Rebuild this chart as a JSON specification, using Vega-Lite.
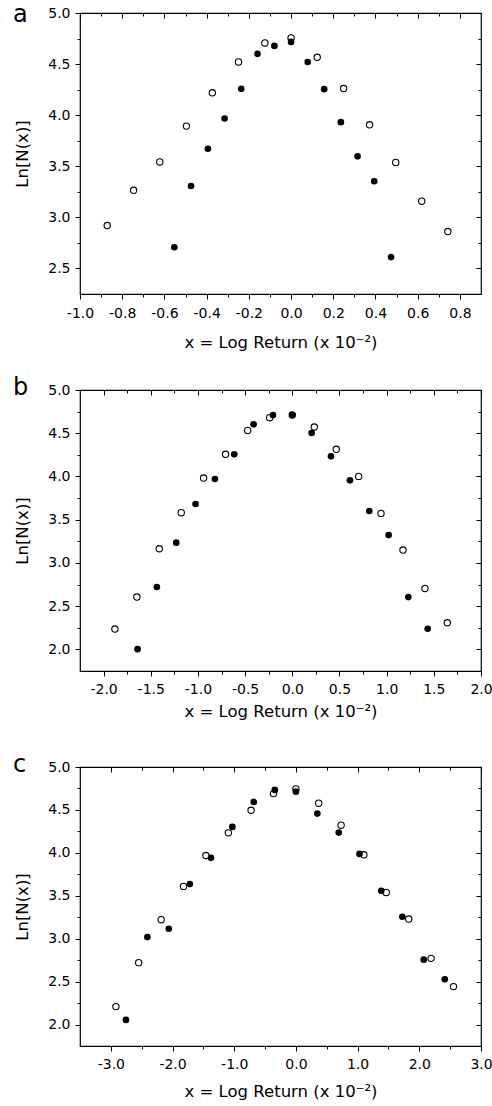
{
  "$schema": "https://vega.github.io/schema/vega-lite/v6.json",
  "padding": {"left": 12, "top": 2, "right": 10, "bottom": 5},
  "background": "white",
  "config": {
    "view": {"stroke": "black", "strokeWidth": 1.2},
    "axis": {"labelFont": "DejaVu Sans", "labelFontSize": 14, "labelColor": "black", "titleFont": "DejaVu Sans", "titleFontSize": 16.5, "titleFontWeight": "normal", "titleColor": "black", "tickColor": "black", "tickWidth": 1, "domain": false, "grid": false, "labelFlush": false, "labelOverlap": false, "labelBound": false},
    "title": {"font": "DejaVu Sans", "fontSize": 24, "fontWeight": "normal", "color": "black"}
  },
  "datasets": {
    "a": [
      {"x": -0.871, "y": 2.92, "s": "open"}, {"x": -0.746, "y": 3.265, "s": "open"}, {"x": -0.622, "y": 3.542, "s": "open"}, {"x": -0.496, "y": 3.893, "s": "open"}, {"x": -0.373, "y": 4.219, "s": "open"}, {"x": -0.249, "y": 4.521, "s": "open"}, {"x": -0.124, "y": 4.707, "s": "open"}, {"x": 0, "y": 4.756, "s": "open"}, {"x": 0.124, "y": 4.567, "s": "open"}, {"x": 0.249, "y": 4.261, "s": "open"}, {"x": 0.372, "y": 3.906, "s": "open"}, {"x": 0.496, "y": 3.538, "s": "open"}, {"x": 0.619, "y": 3.158, "s": "open"}, {"x": 0.743, "y": 2.861, "s": "open"},
      {"x": -0.553, "y": 2.708, "s": "filled"}, {"x": -0.474, "y": 3.307, "s": "filled"}, {"x": -0.394, "y": 3.672, "s": "filled"}, {"x": -0.315, "y": 3.968, "s": "filled"}, {"x": -0.236, "y": 4.258, "s": "filled"}, {"x": -0.159, "y": 4.6, "s": "filled"}, {"x": -0.079, "y": 4.678, "s": "filled"}, {"x": 0, "y": 4.717, "s": "filled"}, {"x": 0.079, "y": 4.521, "s": "filled"}, {"x": 0.157, "y": 4.255, "s": "filled"}, {"x": 0.236, "y": 3.932, "s": "filled"}, {"x": 0.315, "y": 3.597, "s": "filled"}, {"x": 0.394, "y": 3.353, "s": "filled"}, {"x": 0.474, "y": 2.611, "s": "filled"}
    ],
    "b": [
      {"x": -1.88, "y": 2.235, "s": "open"}, {"x": -1.647, "y": 2.605, "s": "open"}, {"x": -1.41, "y": 3.164, "s": "open"}, {"x": -1.177, "y": 3.581, "s": "open"}, {"x": -0.94, "y": 3.982, "s": "open"}, {"x": -0.707, "y": 4.256, "s": "open"}, {"x": -0.473, "y": 4.533, "s": "open"}, {"x": -0.24, "y": 4.68, "s": "open"}, {"x": 0, "y": 4.71, "s": "open"}, {"x": 0.233, "y": 4.572, "s": "open"}, {"x": 0.466, "y": 4.314, "s": "open"}, {"x": 0.703, "y": 4.001, "s": "open"}, {"x": 0.94, "y": 3.573, "s": "open"}, {"x": 1.173, "y": 3.149, "s": "open"}, {"x": 1.406, "y": 2.705, "s": "open"}, {"x": 1.643, "y": 2.308, "s": "open"},
      {"x": -1.64, "y": 2.003, "s": "filled"}, {"x": -1.435, "y": 2.721, "s": "filled"}, {"x": -1.23, "y": 3.234, "s": "filled"}, {"x": -1.025, "y": 3.681, "s": "filled"}, {"x": -0.82, "y": 3.97, "s": "filled"}, {"x": -0.615, "y": 4.256, "s": "filled"}, {"x": -0.41, "y": 4.603, "s": "filled"}, {"x": -0.205, "y": 4.711, "s": "filled"}, {"x": 0, "y": 4.711, "s": "filled"}, {"x": 0.205, "y": 4.502, "s": "filled"}, {"x": 0.41, "y": 4.233, "s": "filled"}, {"x": 0.611, "y": 3.955, "s": "filled"}, {"x": 0.816, "y": 3.6, "s": "filled"}, {"x": 1.021, "y": 3.322, "s": "filled"}, {"x": 1.23, "y": 2.605, "s": "filled"}, {"x": 1.435, "y": 2.239, "s": "filled"}
    ],
    "c": [
      {"x": -2.918, "y": 2.209, "s": "open"}, {"x": -2.549, "y": 2.721, "s": "open"}, {"x": -2.185, "y": 3.221, "s": "open"}, {"x": -1.822, "y": 3.609, "s": "open"}, {"x": -1.459, "y": 3.969, "s": "open"}, {"x": -1.095, "y": 4.233, "s": "open"}, {"x": -0.727, "y": 4.496, "s": "open"}, {"x": -0.363, "y": 4.69, "s": "open"}, {"x": 0, "y": 4.744, "s": "open"}, {"x": 0.369, "y": 4.578, "s": "open"}, {"x": 0.732, "y": 4.322, "s": "open"}, {"x": 1.101, "y": 3.977, "s": "open"}, {"x": 1.464, "y": 3.539, "s": "open"}, {"x": 1.828, "y": 3.229, "s": "open"}, {"x": 2.191, "y": 2.771, "s": "open"}, {"x": 2.554, "y": 2.442, "s": "open"},
      {"x": -2.755, "y": 2.054, "s": "filled"}, {"x": -2.408, "y": 3.019, "s": "filled"}, {"x": -2.061, "y": 3.116, "s": "filled"}, {"x": -1.719, "y": 3.636, "s": "filled"}, {"x": -1.377, "y": 3.942, "s": "filled"}, {"x": -1.03, "y": 4.302, "s": "filled"}, {"x": -0.683, "y": 4.593, "s": "filled"}, {"x": -0.342, "y": 4.733, "s": "filled"}, {"x": 0, "y": 4.713, "s": "filled"}, {"x": 0.347, "y": 4.457, "s": "filled"}, {"x": 0.694, "y": 4.236, "s": "filled"}, {"x": 1.03, "y": 3.988, "s": "filled"}, {"x": 1.383, "y": 3.558, "s": "filled"}, {"x": 1.725, "y": 3.256, "s": "filled"}, {"x": 2.072, "y": 2.756, "s": "filled"}, {"x": 2.413, "y": 2.527, "s": "filled"}
    ]
  },
  "bounds": "flush",
  "spacing": 96,
  "vconcat": [
    {
      "title": {"text": "a", "anchor": "start", "frame": "group", "baseline": "alphabetic", "offset": 0, "dx": -67, "dy": 40},
      "width": 401, "height": 281,
      "data": {"name": "a"},
      "resolve": {"scale": {"x": "independent", "y": "independent"}},
      "layer": [
        {"transform": [{"filter": "datum.s == 'open'"}],
         "mark": {"type": "point", "filled": false, "color": "black", "strokeWidth": 1.1, "size": 40, "opacity": 1},
         "encoding": {
           "x": {"field": "x", "type": "quantitative", "scale": {"domain": [-1.0, 0.9], "nice": false, "zero": false},
                 "axis": {"orient": "bottom", "values": [-1.0, -0.8, -0.6, -0.4, -0.2, 0, 0.2, 0.4, 0.6, 0.8], "tickSize": 5, "labelPadding": 7, "labelExpr": "replace(format(datum.value, '.1f'), '\u2212', '-')", "title": "x = Log Return (x 10\u207b\u00b2)", "titlePadding": 14}},
           "y": {"field": "y", "type": "quantitative", "scale": {"domain": [2.25, 5.0], "nice": false, "zero": false},
                 "axis": {"orient": "left", "values": [2.5, 3.0, 3.5, 4.0, 4.5, 5.0], "tickSize": 5, "labelPadding": 5, "format": ".1f", "title": "Ln[N(x)]", "titlePadding": 17}}
         }},
        {"transform": [{"filter": "datum.s == 'filled'"}],
         "mark": {"type": "point", "filled": true, "color": "black", "size": 44, "opacity": 1},
         "encoding": {
           "x": {"field": "x", "type": "quantitative", "scale": {"domain": [-1.0, 0.9], "nice": false, "zero": false}, "axis": null},
           "y": {"field": "y", "type": "quantitative", "scale": {"domain": [2.25, 5.0], "nice": false, "zero": false}, "axis": null}
         }},
        {"mark": {"type": "point", "opacity": 0},
         "encoding": {
           "x": {"field": "x", "type": "quantitative", "scale": {"domain": [-1.0, 0.9], "nice": false, "zero": false},
                 "axis": {"orient": "bottom", "values": [-0.9, -0.7, -0.5, -0.3, -0.1, 0.1, 0.3, 0.5, 0.7], "tickSize": 3, "labels": false, "title": null}},
           "y": {"field": "y", "type": "quantitative", "scale": {"domain": [2.25, 5.0], "nice": false, "zero": false},
                 "axis": {"orient": "left", "values": [2.75, 3.25, 3.75, 4.25, 4.75], "tickSize": 3, "labels": false, "title": null}}
         }},
        {"mark": {"type": "point", "opacity": 0},
         "encoding": {
           "x": {"field": "x", "type": "quantitative", "scale": {"domain": [-1.0, 0.9], "nice": false, "zero": false},
                 "axis": {"orient": "top", "values": [-1.0, -0.8, -0.6, -0.4, -0.2, 0, 0.2, 0.4, 0.6, 0.8], "tickSize": -5, "labels": false, "title": null}},
           "y": {"field": "y", "type": "quantitative", "scale": {"domain": [2.25, 5.0], "nice": false, "zero": false},
                 "axis": {"orient": "right", "values": [2.5, 3.0, 3.5, 4.0, 4.5, 5.0], "tickSize": -5, "labels": false, "title": null}}
         }},
        {"mark": {"type": "point", "opacity": 0},
         "encoding": {
           "x": {"field": "x", "type": "quantitative", "scale": {"domain": [-1.0, 0.9], "nice": false, "zero": false},
                 "axis": {"orient": "top", "values": [-0.9, -0.7, -0.5, -0.3, -0.1, 0.1, 0.3, 0.5, 0.7], "tickSize": -3, "labels": false, "title": null}},
           "y": {"field": "y", "type": "quantitative", "scale": {"domain": [2.25, 5.0], "nice": false, "zero": false},
                 "axis": {"orient": "right", "values": [2.75, 3.25, 3.75, 4.25, 4.75], "tickSize": -3, "labels": false, "title": null}}
         }}
      ]
    },
    {
      "title": {"text": "b", "anchor": "start", "frame": "group", "baseline": "alphabetic", "offset": 0, "dx": -67, "dy": 36},
      "width": 401, "height": 281,
      "data": {"name": "b"},
      "resolve": {"scale": {"x": "independent", "y": "independent"}},
      "layer": [
        {"transform": [{"filter": "datum.s == 'open'"}],
         "mark": {"type": "point", "filled": false, "color": "black", "strokeWidth": 1.1, "size": 40, "opacity": 1},
         "encoding": {
           "x": {"field": "x", "type": "quantitative", "scale": {"domain": [-2.25, 2.0], "nice": false, "zero": false},
                 "axis": {"orient": "bottom", "values": [-2.0, -1.5, -1.0, -0.5, 0, 0.5, 1.0, 1.5, 2.0], "tickSize": 5, "labelPadding": 6, "labelExpr": "replace(format(datum.value, '.1f'), '\u2212', '-')", "title": "x = Log Return (x 10\u207b\u00b2)", "titlePadding": 7}},
           "y": {"field": "y", "type": "quantitative", "scale": {"domain": [1.75, 5.0], "nice": false, "zero": false},
                 "axis": {"orient": "left", "values": [2.0, 2.5, 3.0, 3.5, 4.0, 4.5, 5.0], "tickSize": 5, "labelPadding": 5, "format": ".1f", "title": "Ln[N(x)]", "titlePadding": 17}}
         }},
        {"transform": [{"filter": "datum.s == 'filled'"}],
         "mark": {"type": "point", "filled": true, "color": "black", "size": 44, "opacity": 1},
         "encoding": {
           "x": {"field": "x", "type": "quantitative", "scale": {"domain": [-2.25, 2.0], "nice": false, "zero": false}, "axis": null},
           "y": {"field": "y", "type": "quantitative", "scale": {"domain": [1.75, 5.0], "nice": false, "zero": false}, "axis": null}
         }},
        {"mark": {"type": "point", "opacity": 0},
         "encoding": {
           "x": {"field": "x", "type": "quantitative", "scale": {"domain": [-2.25, 2.0], "nice": false, "zero": false},
                 "axis": {"orient": "bottom", "values": [-1.75, -1.25, -0.75, -0.25, 0.25, 0.75, 1.25, 1.75], "tickSize": 3, "labels": false, "title": null}},
           "y": {"field": "y", "type": "quantitative", "scale": {"domain": [1.75, 5.0], "nice": false, "zero": false},
                 "axis": {"orient": "left", "values": [2.25, 2.75, 3.25, 3.75, 4.25, 4.75], "tickSize": 3, "labels": false, "title": null}}
         }},
        {"mark": {"type": "point", "opacity": 0},
         "encoding": {
           "x": {"field": "x", "type": "quantitative", "scale": {"domain": [-2.25, 2.0], "nice": false, "zero": false},
                 "axis": {"orient": "top", "values": [-2.0, -1.5, -1.0, -0.5, 0, 0.5, 1.0, 1.5, 2.0], "tickSize": -5, "labels": false, "title": null}},
           "y": {"field": "y", "type": "quantitative", "scale": {"domain": [1.75, 5.0], "nice": false, "zero": false},
                 "axis": {"orient": "right", "values": [2.0, 2.5, 3.0, 3.5, 4.0, 4.5, 5.0], "tickSize": -5, "labels": false, "title": null}}
         }},
        {"mark": {"type": "point", "opacity": 0},
         "encoding": {
           "x": {"field": "x", "type": "quantitative", "scale": {"domain": [-2.25, 2.0], "nice": false, "zero": false},
                 "axis": {"orient": "top", "values": [-1.75, -1.25, -0.75, -0.25, 0.25, 0.75, 1.25, 1.75], "tickSize": -3, "labels": false, "title": null}},
           "y": {"field": "y", "type": "quantitative", "scale": {"domain": [1.75, 5.0], "nice": false, "zero": false},
                 "axis": {"orient": "right", "values": [2.25, 2.75, 3.25, 3.75, 4.25, 4.75], "tickSize": -3, "labels": false, "title": null}}
         }}
      ]
    },
    {
      "title": {"text": "c", "anchor": "start", "frame": "group", "baseline": "alphabetic", "offset": 0, "dx": -67, "dy": 36},
      "width": 401, "height": 279,
      "data": {"name": "c"},
      "resolve": {"scale": {"x": "independent", "y": "independent"}},
      "layer": [
        {"transform": [{"filter": "datum.s == 'open'"}],
         "mark": {"type": "point", "filled": false, "color": "black", "strokeWidth": 1.1, "size": 40, "opacity": 1},
         "encoding": {
           "x": {"field": "x", "type": "quantitative", "scale": {"domain": [-3.5, 3.0], "nice": false, "zero": false},
                 "axis": {"orient": "bottom", "values": [-3.0, -2.0, -1.0, 0, 1.0, 2.0, 3.0], "tickSize": 5, "labelPadding": 6, "labelExpr": "replace(format(datum.value, '.1f'), '\u2212', '-')", "title": "x = Log Return (x 10\u207b\u00b2)", "titlePadding": 12}},
           "y": {"field": "y", "type": "quantitative", "scale": {"domain": [1.75, 5.0], "nice": false, "zero": false},
                 "axis": {"orient": "left", "values": [2.0, 2.5, 3.0, 3.5, 4.0, 4.5, 5.0], "tickSize": 5, "labelPadding": 5, "format": ".1f", "title": "Ln[N(x)]", "titlePadding": 17}}
         }},
        {"transform": [{"filter": "datum.s == 'filled'"}],
         "mark": {"type": "point", "filled": true, "color": "black", "size": 44, "opacity": 1},
         "encoding": {
           "x": {"field": "x", "type": "quantitative", "scale": {"domain": [-3.5, 3.0], "nice": false, "zero": false}, "axis": null},
           "y": {"field": "y", "type": "quantitative", "scale": {"domain": [1.75, 5.0], "nice": false, "zero": false}, "axis": null}
         }},
        {"mark": {"type": "point", "opacity": 0},
         "encoding": {
           "x": {"field": "x", "type": "quantitative", "scale": {"domain": [-3.5, 3.0], "nice": false, "zero": false},
                 "axis": {"orient": "bottom", "values": [-2.5, -1.5, -0.5, 0.5, 1.5, 2.5], "tickSize": 3, "labels": false, "title": null}},
           "y": {"field": "y", "type": "quantitative", "scale": {"domain": [1.75, 5.0], "nice": false, "zero": false},
                 "axis": {"orient": "left", "values": [2.25, 2.75, 3.25, 3.75, 4.25, 4.75], "tickSize": 3, "labels": false, "title": null}}
         }},
        {"mark": {"type": "point", "opacity": 0},
         "encoding": {
           "x": {"field": "x", "type": "quantitative", "scale": {"domain": [-3.5, 3.0], "nice": false, "zero": false},
                 "axis": {"orient": "top", "values": [-3.0, -2.0, -1.0, 0, 1.0, 2.0, 3.0], "tickSize": -5, "labels": false, "title": null}},
           "y": {"field": "y", "type": "quantitative", "scale": {"domain": [1.75, 5.0], "nice": false, "zero": false},
                 "axis": {"orient": "right", "values": [2.0, 2.5, 3.0, 3.5, 4.0, 4.5, 5.0], "tickSize": -5, "labels": false, "title": null}}
         }},
        {"mark": {"type": "point", "opacity": 0},
         "encoding": {
           "x": {"field": "x", "type": "quantitative", "scale": {"domain": [-3.5, 3.0], "nice": false, "zero": false},
                 "axis": {"orient": "top", "values": [-2.5, -1.5, -0.5, 0.5, 1.5, 2.5], "tickSize": -3, "labels": false, "title": null}},
           "y": {"field": "y", "type": "quantitative", "scale": {"domain": [1.75, 5.0], "nice": false, "zero": false},
                 "axis": {"orient": "right", "values": [2.25, 2.75, 3.25, 3.75, 4.25, 4.75], "tickSize": -3, "labels": false, "title": null}}
         }}
      ]
    }
  ]
}
